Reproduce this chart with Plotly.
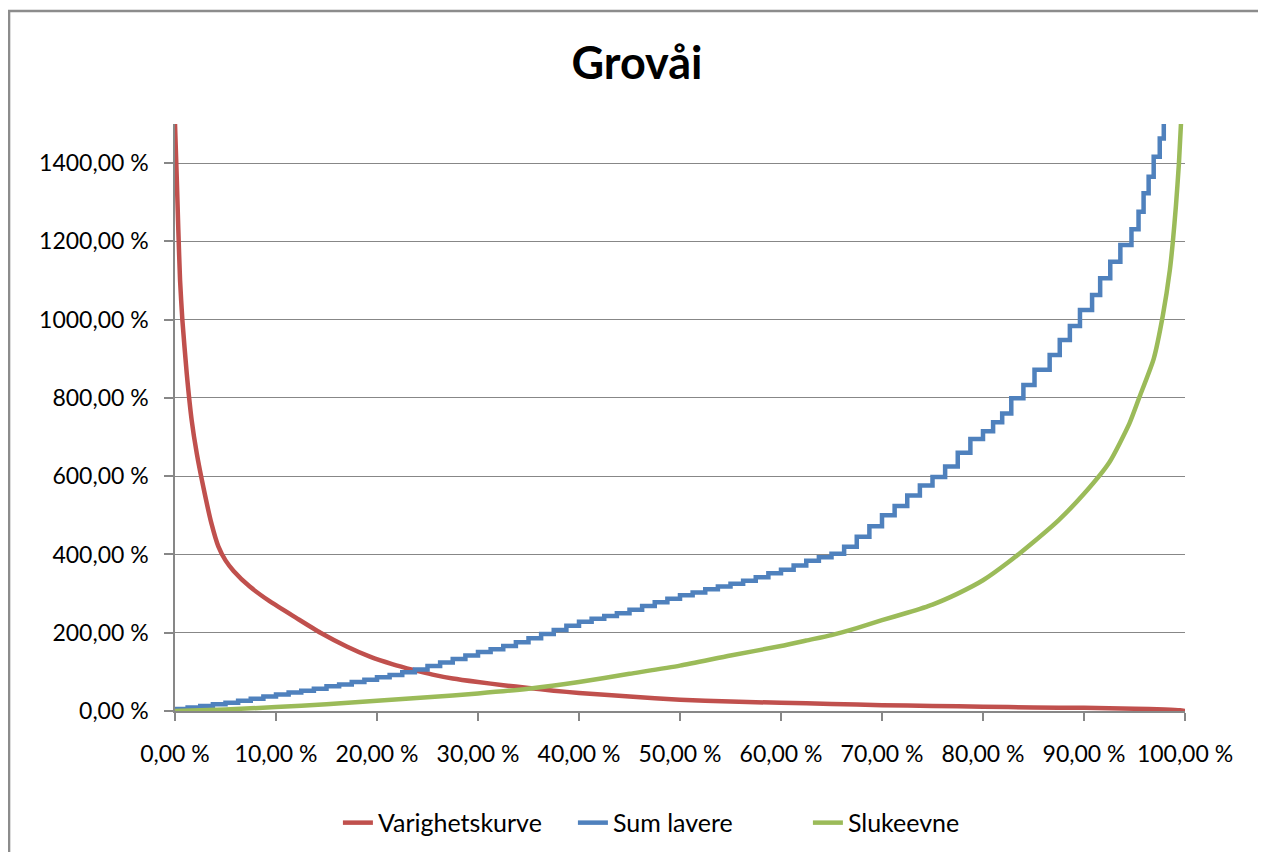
import plotly.graph_objects as go

# ---- data ----
red_x = [0, 0.17, 0.33, 0.5, 0.73, 1.16, 1.65, 2.15, 2.8, 3.6, 4.3, 5.0, 5.8, 7.4, 9.4, 12, 14.4, 17, 19.3,
         21.5, 23.6, 25.5, 27.5, 30, 32.5, 35, 37.5, 40, 45, 50, 55, 60, 65, 70, 75, 80, 85, 90, 95,
         98, 99.5, 100]
red_y = [1500, 1365, 1229, 1101, 999, 863, 743, 659, 573, 480, 420, 385, 358, 318, 280, 238, 200, 165, 139,
         120, 105, 93, 83, 74, 66, 59, 52, 46, 37, 29, 24, 21, 18, 15, 13, 11, 9, 8, 6, 4, 2, 0]

blue_x = [0, 1.25, 2.5, 3.75, 5, 6.25, 7.5, 8.75, 10, 11.25, 12.5, 13.75, 15, 16.25, 17.5, 18.75,
          20, 21.25, 22.5, 23.75, 25, 26.25, 27.5, 28.75, 30, 31.25, 32.5, 33.75, 35, 36.25, 37.5,
          38.75, 40, 41.25, 42.5, 43.75, 45, 46.25, 47.5, 48.75, 50, 51.25, 52.5, 53.75, 55, 56.25,
          57.5, 58.75, 60, 61.25, 62.5, 63.75, 65, 66.25, 67.5, 68.75, 70, 71.25, 72.5, 73.75, 75,
          76.25, 77.5, 78.75, 80, 81, 81.9, 82.8, 84.0, 85.1, 86.6, 87.6, 88.6, 89.6, 90.8, 91.6,
          92.6, 93.6, 94.7, 95.4, 95.9, 96.4, 96.9, 97.5, 97.9]
blue_y = [5, 9, 13, 17, 21, 26, 31, 37, 42, 47, 52, 57, 63, 68, 74, 80,
          86, 92, 99, 106, 115, 124, 133, 142, 151, 158, 166, 176, 186, 197, 207,
          218, 228, 236, 243, 250, 259, 268, 278, 287, 296, 303, 311, 318, 325, 333,
          342, 352, 361, 372, 384, 393, 402, 420, 445, 472, 500, 524, 551, 576, 598,
          625, 660, 695, 715, 738, 760, 799, 833, 872, 910, 948, 984, 1025, 1063, 1106,
          1148, 1191, 1231, 1276, 1323, 1365, 1416, 1463, 1560]

green_x = [0, 5, 10, 15, 20, 25, 30, 35, 40, 45, 50, 55, 60, 62.5, 65, 67.5, 70, 72.5, 75, 77.5,
           80, 82.5, 85, 87.5, 90, 92.5, 94.5, 95.5, 96.9, 97.8, 98.5, 98.8, 99.1, 99.4, 99.6]
green_y = [0, 4, 10, 17, 26, 35, 45, 57, 74, 95, 116, 142, 166, 180, 194, 212, 232, 251, 272, 300,
           334, 380, 432, 488, 555, 635, 735, 803, 900, 1010, 1127, 1200, 1290, 1400, 1500]

series_names = ["Varighetskurve", "Sum lavere", "Slukeevne"]
series_colors = ["#C0504D", "#4F81BD", "#9BBB59"]

y_tickvals = [0, 200, 400, 600, 800, 1000, 1200, 1400]
y_ticktext = ["0,00 %", "200,00 %", "400,00 %", "600,00 %", "800,00 %", "1000,00 %", "1200,00 %", "1400,00 %"]
x_tickvals = [0, 10, 20, 30, 40, 50, 60, 70, 80, 90, 100]
x_ticktext = ["0,00 %", "10,00 %", "20,00 %", "30,00 %", "40,00 %", "50,00 %", "60,00 %",
              "70,00 %", "80,00 %", "90,00 %", "100,00 %"]

FONT = "Lato, 'Open Sans', sans-serif"
GRAY = "#878787"

fig = go.Figure()
fig.add_trace(go.Scatter(x=red_x, y=red_y, mode="lines", name=series_names[0],
                         line=dict(color=series_colors[0], width=4.5, shape="spline", smoothing=0.5)))
fig.add_trace(go.Scatter(x=blue_x, y=blue_y, mode="lines", name=series_names[1],
                         line=dict(color=series_colors[1], width=4.5, shape="hv")))
fig.add_trace(go.Scatter(x=green_x, y=green_y, mode="lines", name=series_names[2],
                         line=dict(color=series_colors[2], width=4.5, shape="spline", smoothing=0.6)))

# the page body has an 8px margin, so the figure is 8px smaller and margins shifted
fig.update_layout(
    width=1258, height=844,
    margin=dict(l=167, r=81, t=116, b=141, autoexpand=False),
    paper_bgcolor="white", plot_bgcolor="white",
    font=dict(family=FONT, size=23, color="black"),
    title=dict(text="<b>Grovåi</b>", x=0.5, xref="container", xanchor="center",
               y=0.9348, yref="container", yanchor="middle",
               font=dict(family=FONT, size=45, color="black")),
    showlegend=True,
    legend=dict(orientation="h", xref="paper", x=0.1613, xanchor="left",
                yref="container", y=0.0345, yanchor="middle",
                entrywidth=190, entrywidthmode="pixels",
                font=dict(family=FONT, size=25, color="black"), bgcolor="rgba(0,0,0,0)"),
    xaxis=dict(range=[0, 100], tickvals=x_tickvals, ticktext=x_ticktext, showgrid=False,
               showline=True, linecolor=GRAY, linewidth=1.5, ticks="outside", ticklen=8,
               tickcolor=GRAY, tickwidth=1.5, zeroline=False, ticklabelstandoff=14,
               automargin=False,
               tickfont=dict(family=FONT, size=23, color="black")),
    yaxis=dict(range=[0, 1500], tickvals=y_tickvals, ticktext=y_ticktext, showgrid=True,
               gridcolor=GRAY, gridwidth=1.2, showline=True, linecolor=GRAY, linewidth=1.5,
               ticks="outside", ticklen=9, tickcolor=GRAY, tickwidth=1.5, zeroline=False,
               ticklabelstandoff=11, automargin=False,
               tickfont=dict(family=FONT, size=23, color="black")),
    shapes=[dict(type="rect", xref="paper", yref="paper",
                 x0=-0.1643, x1=1.0772, y0=-0.27, y1=1.1925,
                 line=dict(color="#8c8c8c", width=2.5), layer="below")],
)

fig.write_html("out.html")
